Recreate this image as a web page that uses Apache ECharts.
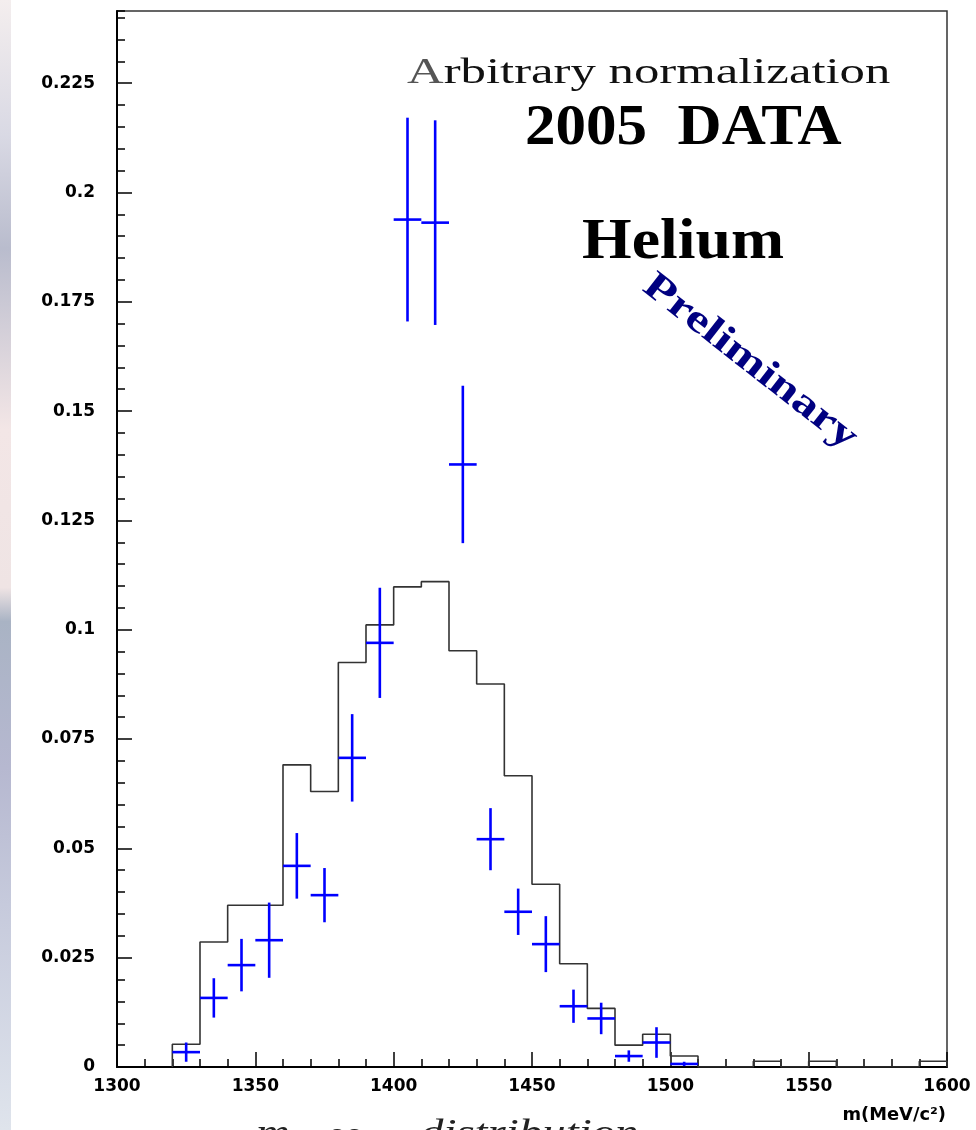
<!DOCTYPE html>
<html>
<head>
<meta charset="utf-8">
<script src="https://cdn.jsdelivr.net/npm/echarts@6/dist/echarts.min.js"></script>
<style>
html,body{margin:0;padding:0;background:#fff;}
#chart{width:976px;height:1130px;}
</style>
</head>
<body>
<div id="chart"></div>
<script>
// Simulation histogram: bin start (MeV/c^2), bin width 10
const binStart = [1320,1330,1340,1350,1360,1370,1380,1390,1400,1410,1420,1430,1440,1450,1460,1470,1480,1490,1500,1510,1520,1530,1540,1550,1560,1570,1580,1590];
const binWidth = 10;
const histValues = [0.0052,0.0286,0.0370,0.0370,0.0691,0.0630,0.0925,0.1011,0.1098,0.1110,0.0952,0.0876,0.0666,0.0418,0.0236,0.0134,0.0050,0.0075,0.0025,0,0,0.0013,0,0.0013,0,0,0,0.0013];

// 2005 data points (bin centre, value, error)
const dataX   = [1325,1335,1345,1355,1365,1375,1385,1395,1405,1415,1425,1435,1445,1455,1465,1475,1485,1495,1505];
const dataY   = [0.0034,0.0158,0.0233,0.0290,0.0460,0.0393,0.0707,0.0970,0.1938,0.1931,0.1378,0.0521,0.0355,0.0281,0.0139,0.0111,0.0025,0.0056,0.0007];
const dataErr = [0.0022,0.0045,0.0060,0.0086,0.0075,0.0062,0.0100,0.0126,0.0233,0.0234,0.0180,0.0071,0.0053,0.0064,0.0038,0.0036,0.0013,0.0035,0.0005];

// Axis settings
const xMin = 1300, xMax = 1600, xInterval = 50;
const yMin = 0, yMax = 0.2415, yInterval = 0.025, yMinorInterval = 0.005;

// Build step line points: (lowEdge, 0) then (highEdge_i, value_i) with step 'start'
const histLine = [[binStart[0], 0]];
for (let i = 0; i < binStart.length; i++) {
  histLine.push([binStart[i] + binWidth, histValues[i]]);
}
histLine.push([binStart[binStart.length - 1] + binWidth, 0]);

const crossData = dataX.map((x, i) => [x, dataY[i], dataErr[i]]);

const chart = echarts.init(document.getElementById('chart'), null, {renderer: 'canvas'});
const labelFont = {fontFamily: 'DejaVu Sans', fontWeight: 'bold', fontSize: 17, color: '#000'};

chart.setOption({
  animation: false,
  backgroundColor: '#fff',
  grid: {left: 117, right: 29, top: 11, bottom: 63, show: true, borderColor: '#333', borderWidth: 1.5, backgroundColor: '#fff'},
  xAxis: [{
    type: 'value', min: xMin, max: xMax, interval: xInterval, position: 'bottom',
    axisLine: {show: true, onZero: false, lineStyle: {color: '#000', width: 2}},
    axisTick: {show: true, inside: true, length: 15, lineStyle: {color: '#000', width: 1.5}},
    minorTick: {show: true, splitNumber: 5, length: 8, lineStyle: {color: '#000', width: 1.5}},
    splitLine: {show: false}, minorSplitLine: {show: false},
    axisLabel: Object.assign({margin: 11, formatter: function (v) { return String(v); }}, labelFont)
  }],
  yAxis: [{
    type: 'value', min: yMin, max: yMax, interval: yInterval, position: 'left',
    axisLine: {show: true, onZero: false, lineStyle: {color: '#000', width: 2}},
    axisTick: {show: true, inside: true, length: 15, lineStyle: {color: '#000', width: 1.5}},
    splitLine: {show: false},
    axisLabel: Object.assign({margin: 22, showMaxLabel: false}, labelFont)
  }, {
    type: 'value', min: yMin, max: yMax, interval: yMinorInterval, position: 'left', offset: 0,
    axisLine: {show: false},
    axisTick: {show: true, inside: true, length: 8, lineStyle: {color: '#000', width: 1.5}},
    splitLine: {show: false},
    axisLabel: {show: false}
  }],
  series: [{
    type: 'line', xAxisIndex: 0, yAxisIndex: 0, step: 'start', symbol: 'none',
    data: histLine, lineStyle: {color: '#333', width: 1.6}, z: 2
  }, {
    type: 'custom', xAxisIndex: 0, yAxisIndex: 0, data: crossData, z: 3,
    renderItem: function (params, api) {
      const x = api.value(0), y = api.value(1), e = api.value(2);
      const half = binWidth / 2;
      const pL = api.coord([x - half, y]), pR = api.coord([x + half, y]);
      const pT = api.coord([x, y + e]), pB = api.coord([x, y - e]);
      const st = {stroke: '#0000ff', lineWidth: 2.6};
      return {type: 'group', children: [
        {type: 'line', shape: {x1: pL[0], y1: pL[1], x2: pR[0], y2: pR[1]}, style: st},
        {type: 'line', shape: {x1: pT[0], y1: pT[1], x2: pB[0], y2: pB[1]}, style: st}
      ]};
    }
  }],
  graphic: [
    {type: 'rect', left: 0, top: 0, z: -10, shape: {x: 0, y: 0, width: 11, height: 1130},
     style: {fill: new echarts.graphic.LinearGradient(0, 0, 0, 1, [
       {offset: 0, color: '#f4eeee'}, {offset: 0.12, color: '#d9d9e4'}, {offset: 0.22, color: '#b9bccd'},
       {offset: 0.38, color: '#f3e6e6'}, {offset: 0.52, color: '#efe4e4'}, {offset: 0.55, color: '#a9b3c4'},
       {offset: 0.68, color: '#b6b8d0'}, {offset: 0.8, color: '#c6cadc'}, {offset: 1, color: '#dfe4ec'}])}},
    {type: 'text', x: 407, y: 74, scaleX: 1.45, z: 10,
     style: {rich: {a: {fill: '#555', fontSize: 35, fontFamily: 'Liberation Serif'}, b: {fill: '#111', fontSize: 35, fontFamily: 'Liberation Serif'}},
       text: '{a|A}{b|rbitrary normalization}',
       fontSize: 35, fontFamily: 'Liberation Serif', fill: '#111', textAlign: 'left', textVerticalAlign: 'middle', align: 'left', verticalAlign: 'middle'}},
    {type: 'text', x: 525, y: 130, scaleX: 1.09, z: 10,
     style: {text: '2005  DATA', fontSize: 56, fontWeight: 'bold', fontFamily: 'Liberation Serif', fill: '#000', textAlign: 'left', textVerticalAlign: 'middle', align: 'left', verticalAlign: 'middle'}},
    {type: 'text', x: 582, y: 243, scaleX: 1.1, z: 10,
     style: {text: 'Helium', fontSize: 58, fontWeight: 'bold', fontFamily: 'Liberation Serif', fill: '#000', textAlign: 'left', textVerticalAlign: 'middle', align: 'left', verticalAlign: 'middle'}},
    {type: 'text', x: 750, y: 362, rotation: -38 * Math.PI / 180, scaleX: 1.3, z: 10,
     style: {text: 'Preliminary', fontSize: 39, fontWeight: 'bold', fontFamily: 'Liberation Serif', fill: '#000080', textAlign: 'center', textVerticalAlign: 'middle', align: 'center', verticalAlign: 'middle'}},
    {type: 'text', x: 946, y: 1116, scaleX: 1.05, z: 10,
     style: {text: 'm(MeV/c²)', fontSize: 17, fontWeight: 'bold', fontFamily: 'DejaVu Sans', fill: '#000', textAlign: 'right', textVerticalAlign: 'middle', align: 'right', verticalAlign: 'middle'}},
    {type: 'text', x: 256, y: 1135, scaleX: 1.3, z: 10,
     style: {text: 'm', fontSize: 36, fontStyle: 'italic', fontFamily: 'Liberation Serif', fill: '#222', textAlign: 'left', textVerticalAlign: 'middle', align: 'left', verticalAlign: 'middle'}},
    {type: 'text', x: 326, y: 1135, scaleX: 1.3, z: 10,
     style: {text: 'ee', fontSize: 30, fontStyle: 'italic', fontFamily: 'Liberation Serif', fill: '#222', textAlign: 'left', textVerticalAlign: 'middle', align: 'left', verticalAlign: 'middle'}},
    {type: 'text', x: 420, y: 1135, scaleX: 1.3, z: 10,
     style: {text: 'distribution', fontSize: 36, fontStyle: 'italic', fontFamily: 'Liberation Serif', fill: '#222', textAlign: 'left', textVerticalAlign: 'middle', align: 'left', verticalAlign: 'middle'}}
  ]
});
</script>
</body>
</html>
